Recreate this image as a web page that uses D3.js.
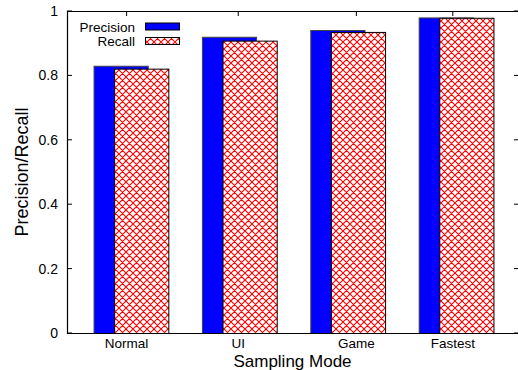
<!DOCTYPE html>
<html>
<head>
<meta charset="utf-8">
<script src="https://cdn.jsdelivr.net/npm/d3@7"></script>
<style>
  html, body { margin: 0; padding: 0; background: #fff; }
  svg { display: block; font-family: "Liberation Sans", Arial, sans-serif; }
</style>
</head>
<body>
<svg id="chart" width="518" height="370"></svg>
<script>
// Sampling modes and their scores
const modes = ["Normal", "UI", "Game", "Fastest"];
const precision = [0.830, 0.920, 0.941, 0.980];
const recall = [0.821, 0.908, 0.935, 0.979];
// x positions (in group units) where each mode's tick label sits
const modeTickAt = [-0.04, 0.99, 2.08, 2.97];
const yTicks = [0, 0.2, 0.4, 0.6, 0.8, 1];
const seriesNames = ["Precision", "Recall"];

const W = 518, H = 370;
const plot = { left: 67, right: 520, top: 11, bottom: 333 };

const svg = d3.select("#chart");

// red cross-hatch fill
const defs = svg.append("defs");
const pat = defs.append("pattern")
  .attr("id", "hatch")
  .attr("patternUnits", "userSpaceOnUse")
  .attr("width", 7).attr("height", 7);
pat.append("rect").attr("width", 7).attr("height", 7).attr("fill", "#fff");
pat.append("path")
  .attr("d", "M-1,-1 L8,8 M-1,6 L1,8 M6,-1 L8,1 M8,-1 L-1,8 M-1,1 L1,-1 M6,8 L8,6")
  .attr("stroke", "#ff0000").attr("stroke-width", 1.1).attr("fill", "none");

const x = d3.scaleLinear().domain([-0.59, 3.59]).range([plot.left, plot.right]);
const y = d3.scaleLinear().domain([0, 1]).range([plot.bottom, plot.top]);

const barW = 0.5;      // width of each bar in group units
const shift = 0.19;    // offset of the recall bar from the precision bar

// tick marks, mirrored on all four sides, pointing inwards
const tickG = svg.append("g").attr("stroke", "#000").attr("stroke-width", 1);
yTicks.forEach(t => {
  tickG.append("line").attr("x1", plot.left).attr("x2", plot.left + 5)
    .attr("y1", y(t)).attr("y2", y(t));
  tickG.append("line").attr("x1", plot.right - 6).attr("x2", plot.right)
    .attr("y1", y(t)).attr("y2", y(t));
});
modeTickAt.forEach(t => {
  tickG.append("line").attr("x1", x(t)).attr("x2", x(t))
    .attr("y1", plot.top).attr("y2", plot.top + 5);
  tickG.append("line").attr("x1", x(t)).attr("x2", x(t))
    .attr("y1", plot.bottom).attr("y2", plot.bottom - 5);
});

// bars: precision in solid blue, recall hatched and shifted right
const bars = svg.append("g");
const bw = x(barW) - x(0);
modes.forEach((m, i) => {
  const pX = x(i - (barW + shift) / 2);
  const rX = x(i - (barW + shift) / 2 + shift);
  bars.append("rect")
    .attr("x", pX + 0.5).attr("y", y(precision[i]) + 0.5)
    .attr("width", bw).attr("height", y(0) - y(precision[i]))
    .attr("fill", "#0000ff").attr("stroke", "#444").attr("stroke-width", 1);
  bars.append("rect")
    .attr("x", rX + 0.5).attr("y", y(recall[i]) + 0.5)
    .attr("width", bw).attr("height", y(0) - y(recall[i]))
    .attr("fill", "url(#hatch)").attr("stroke", "#000").attr("stroke-width", 1);
});

// frame: left, bottom and top edges
const frame = svg.append("g").attr("stroke", "#000").attr("stroke-width", 1.2).attr("fill", "none");
frame.append("path")
  .attr("d", `M${plot.right},${plot.top + 0.5} H${plot.left + 0.5} V${plot.bottom + 0.5} H${plot.right}`);

// y tick labels
svg.append("g").selectAll("text").data(yTicks).join("text")
  .attr("x", plot.left - 9).attr("y", d => y(d) + 5)
  .attr("text-anchor", "end").attr("font-size", 14).attr("fill", "#000")
  .text(d => d3.format("~g")(d));

// x tick labels
svg.append("g").selectAll("text").data(modes).join("text")
  .attr("x", (d, i) => x(modeTickAt[i])).attr("y", 348)
  .attr("text-anchor", "middle").attr("font-size", 13.5).attr("fill", "#000")
  .text(d => d);

// axis titles
svg.append("text")
  .attr("x", (plot.left + 518) / 2).attr("y", 366.5)
  .attr("text-anchor", "middle").attr("font-size", 17).attr("fill", "#000")
  .text("Sampling Mode");
svg.append("text")
  .attr("transform", `translate(28,${(plot.top + plot.bottom) / 2}) rotate(-90)`)
  .attr("text-anchor", "middle").attr("font-size", 18).attr("fill", "#000")
  .text("Precision/Recall");

// legend
const legend = svg.append("g");
seriesNames.forEach((name, k) => {
  const ly = 26.5 + k * 14.5;
  legend.append("text")
    .attr("x", 135).attr("y", ly + 5)
    .attr("text-anchor", "end").attr("font-size", 13.5).attr("fill", "#000")
    .text(name);
  legend.append("rect")
    .attr("x", 145.5).attr("y", ly - 3.5).attr("width", 34).attr("height", 7)
    .attr("fill", k === 0 ? "#0000ff" : "url(#hatch)")
    .attr("stroke", "#000").attr("stroke-width", 1);
});
</script>
</body>
</html>
